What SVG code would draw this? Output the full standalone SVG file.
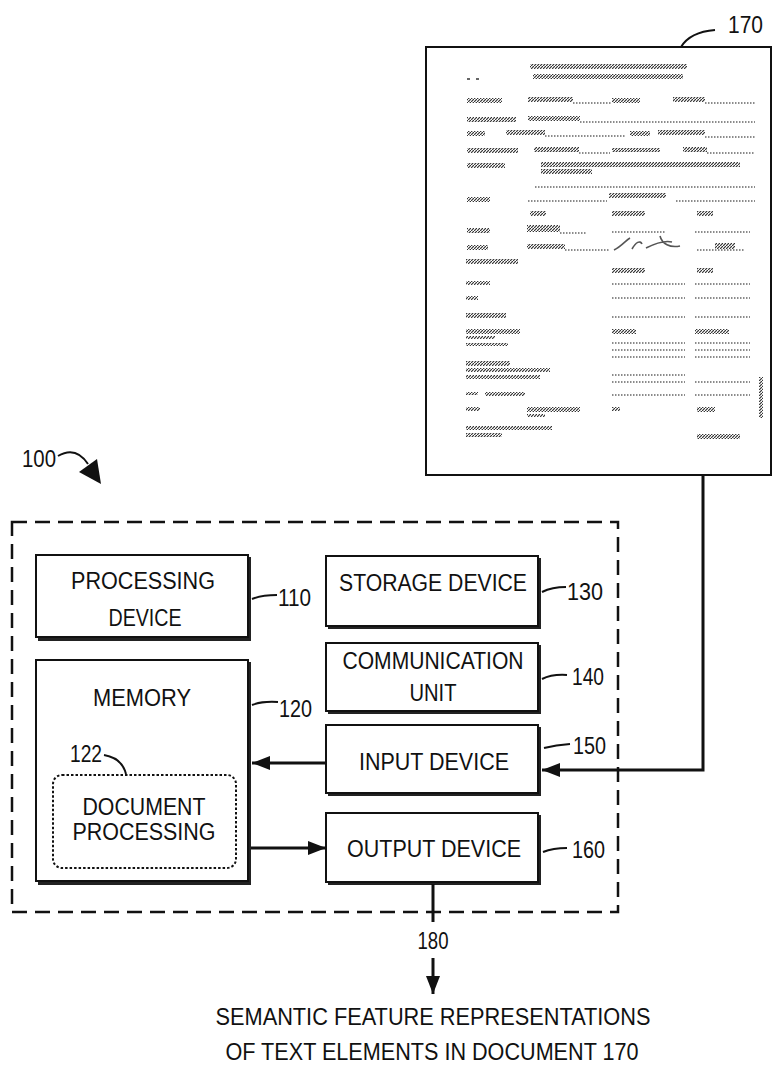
<svg xmlns="http://www.w3.org/2000/svg" width="773" height="1065" viewBox="0 0 773 1065">
  <style>
    .lbl { font-family: "Liberation Sans", Arial, sans-serif; font-size: 23px; fill: #111; }
    .num { font-family: "Liberation Sans", Arial, sans-serif; font-size: 23px; fill: #111; }
    .box { fill: #fff; stroke: #111; stroke-width: 2; }
    .shadow { fill: none; stroke: #222; stroke-width: 3; }
    .wire { fill: none; stroke: #111; stroke-width: 3; }
    .lead { fill: none; stroke: #111; stroke-width: 2; }
    .blob { fill: url(#smudge); }
    .dots { stroke: #666; stroke-width: 1.3; stroke-dasharray: 1.5 1.5; fill: none; }
  </style>
  <defs>
    <pattern id="smudge" width="3" height="3" patternUnits="userSpaceOnUse">
      <rect width="3" height="3" fill="#fff"/>
      <path d="M0,3 L3,0" stroke="#333" stroke-width="1.2"/>
    </pattern>
    <marker id="arrow" markerWidth="20" markerHeight="14" refX="18" refY="7" orient="auto" markerUnits="userSpaceOnUse">
      <path d="M0,0 L18,7 L0,14 Z" fill="#111"/>
    </marker>
  </defs>
  <rect width="773" height="1065" fill="#fff"/>

  <!-- system boundary 100 -->
  <g id="system-100">
    <rect x="12" y="522" width="606" height="390" fill="none" stroke="#111" stroke-width="2.5" stroke-dasharray="15 8"/>
    <text class="num" x="22" y="467" textLength="34" lengthAdjust="spacingAndGlyphs">100</text>
    <path d="M58,456 C70,449 80,452 88,464" class="lead" stroke-width="2.5"/>
    <path d="M79,472 L101,484 L97,459 Z" fill="#111"/>
  </g>

  <!-- document 170 -->
  <g id="document-170">
    <rect x="426" y="47" width="345" height="428" fill="#fff" stroke="#111" stroke-width="2"/>
    <path d="M681,47 Q690,32 715,30" class="lead" stroke-width="2.5"/>
    <text class="num" x="728" y="33" textLength="35" lengthAdjust="spacingAndGlyphs">170</text>
    <!-- scanned form contents -->
    <g>
      <rect class="blob" x="530" y="64" width="157" height="5"/>
      <rect class="blob" x="533" y="74" width="150" height="5"/>
      <rect x="467" y="78" width="3" height="2" fill="#666"/>
      <rect x="476" y="78" width="3" height="2" fill="#666"/>

      <rect class="blob" x="467" y="98" width="35" height="5"/>
      <rect class="blob" x="528" y="97" width="45" height="5"/>
      <line class="dots" x1="573" y1="103" x2="611" y2="103"/>
      <rect class="blob" x="612" y="98" width="28" height="5"/>
      <rect class="blob" x="673" y="97" width="32" height="5"/>
      <line class="dots" x1="705" y1="103" x2="755" y2="103"/>

      <rect class="blob" x="467" y="117" width="49" height="5"/>
      <rect class="blob" x="528" y="116" width="52" height="5"/>
      <line class="dots" x1="580" y1="122" x2="755" y2="122"/>

      <rect class="blob" x="467" y="131" width="18" height="5"/>
      <rect class="blob" x="506" y="130" width="39" height="5"/>
      <line class="dots" x1="545" y1="136" x2="625" y2="136"/>
      <rect class="blob" x="630" y="131" width="20" height="5"/>
      <rect class="blob" x="658" y="130" width="47" height="5"/>
      <line class="dots" x1="705" y1="137" x2="755" y2="137"/>

      <rect class="blob" x="467" y="148" width="51" height="5"/>
      <rect class="blob" x="534" y="147" width="45" height="5"/>
      <line class="dots" x1="579" y1="153" x2="610" y2="153"/>
      <rect class="blob" x="612" y="148" width="48" height="4"/>
      <rect class="blob" x="683" y="147" width="24" height="5"/>
      <line class="dots" x1="707" y1="153" x2="755" y2="153"/>

      <rect class="blob" x="467" y="163" width="38" height="5"/>
      <rect class="blob" x="541" y="162" width="199" height="5"/>
      <rect class="blob" x="541" y="169" width="51" height="5"/>

      <line class="dots" x1="535" y1="187" x2="755" y2="187"/>

      <rect class="blob" x="467" y="197" width="23" height="5"/>
      <line class="dots" x1="528" y1="201" x2="607" y2="201"/>
      <rect class="blob" x="609" y="193" width="57" height="5"/>
      <line class="dots" x1="676" y1="201" x2="755" y2="201"/>

      <rect class="blob" x="530" y="211" width="16" height="5"/>
      <rect class="blob" x="612" y="211" width="33" height="5"/>
      <rect class="blob" x="697" y="211" width="16" height="5"/>

      <rect class="blob" x="467" y="228" width="23" height="5"/>
      <rect class="blob" x="527" y="225" width="33" height="7"/>
      <line class="dots" x1="560" y1="233" x2="586" y2="233"/>
      <line class="dots" x1="612" y1="232" x2="665" y2="232"/>
      <line class="dots" x1="695" y1="232" x2="750" y2="232"/>

      <rect class="blob" x="467" y="245" width="21" height="5"/>
      <rect class="blob" x="527" y="244" width="38" height="5"/>
      <line class="dots" x1="565" y1="250" x2="610" y2="250"/>
      <path d="M614,250 C622,246 626,240 630,238 M632,249 C636,242 640,240 642,244 M646,248 C654,244 664,240 672,242 M660,236 C662,244 670,248 680,246" fill="none" stroke="#555" stroke-width="1.6"/>
      <rect class="blob" x="715" y="243" width="20" height="6"/>
      <line class="dots" x1="697" y1="250" x2="745" y2="250"/>

      <rect class="blob" x="466" y="259" width="52" height="5"/>
      <rect class="blob" x="612" y="268" width="33" height="5"/>
      <rect class="blob" x="697" y="268" width="16" height="5"/>

      <rect class="blob" x="466" y="281" width="24" height="4"/>
      <line class="dots" x1="612" y1="284" x2="685" y2="284"/>
      <line class="dots" x1="695" y1="284" x2="750" y2="284"/>

      <rect class="blob" x="466" y="296" width="12" height="4"/>
      <line class="dots" x1="612" y1="298" x2="685" y2="298"/>
      <line class="dots" x1="695" y1="298" x2="750" y2="298"/>

      <rect class="blob" x="466" y="313" width="40" height="5"/>
      <line class="dots" x1="612" y1="317" x2="685" y2="317"/>
      <line class="dots" x1="695" y1="317" x2="750" y2="317"/>

      <rect class="blob" x="466" y="329" width="54" height="5"/>
      <rect class="blob" x="612" y="329" width="24" height="5"/>
      <rect class="blob" x="695" y="329" width="34" height="5"/>
      <rect class="blob" x="466" y="336" width="29" height="3"/>
      <rect class="blob" x="466" y="343" width="42" height="3"/>
      <line class="dots" x1="612" y1="343" x2="685" y2="343"/>
      <line class="dots" x1="695" y1="343" x2="750" y2="343"/>
      <line class="dots" x1="612" y1="350" x2="685" y2="350"/>
      <line class="dots" x1="695" y1="350" x2="750" y2="350"/>
      <line class="dots" x1="612" y1="357" x2="685" y2="357"/>
      <line class="dots" x1="695" y1="357" x2="750" y2="357"/>

      <rect class="blob" x="466" y="361" width="44" height="5"/>
      <rect class="blob" x="466" y="368" width="84" height="4"/>
      <rect class="blob" x="466" y="375" width="74" height="4"/>
      <line class="dots" x1="612" y1="375" x2="685" y2="375"/>
      <line class="dots" x1="612" y1="382" x2="685" y2="382"/>
      <line class="dots" x1="695" y1="382" x2="750" y2="382"/>

      <rect class="blob" x="466" y="392" width="12" height="3"/>
      <rect class="blob" x="485" y="392" width="40" height="4"/>
      <line class="dots" x1="612" y1="395" x2="685" y2="395"/>
      <line class="dots" x1="695" y1="395" x2="750" y2="395"/>

      <rect class="blob" x="466" y="407" width="14" height="4"/>
      <rect class="blob" x="527" y="407" width="53" height="5"/>
      <rect class="blob" x="527" y="414" width="18" height="3"/>
      <rect class="blob" x="612" y="407" width="8" height="4"/>
      <rect class="blob" x="697" y="407" width="18" height="5"/>
      <rect class="blob" x="759" y="377" width="4" height="41"/>

      <rect class="blob" x="466" y="426" width="86" height="4"/>
      <rect class="blob" x="466" y="433" width="36" height="4"/>
      <rect class="blob" x="697" y="434" width="43" height="5"/>
    </g>
  </g>

  <!-- processing device 110 -->
  <g id="processing-device-110">
    <path class="shadow" d="M249.5,557 V639.5 H38"/>
    <rect class="box" x="36" y="555" width="212" height="82"/>
    <text class="lbl" x="143" y="589" text-anchor="middle" textLength="144" lengthAdjust="spacingAndGlyphs">PROCESSING</text>
    <text class="lbl" x="145" y="626" text-anchor="middle" textLength="73" lengthAdjust="spacingAndGlyphs">DEVICE</text>
    <path class="lead" d="M252,599 Q262,595 277,595"/>
    <text class="num" x="278" y="606" textLength="33" lengthAdjust="spacingAndGlyphs">110</text>
  </g>

  <!-- memory 120 -->
  <g id="memory-120">
    <path class="shadow" d="M249.5,662 V883.5 H38"/>
    <rect class="box" x="36" y="660" width="212" height="221"/>
    <text class="lbl" x="142" y="706" text-anchor="middle" textLength="98" lengthAdjust="spacingAndGlyphs">MEMORY</text>
    <path class="lead" d="M252,705 Q262,701 278,702"/>
    <text class="num" x="279" y="717" textLength="33" lengthAdjust="spacingAndGlyphs">120</text>
  </g>

  <!-- document processing 122 -->
  <g id="document-processing-122">
    <rect x="53" y="775" width="183" height="93" rx="9" ry="9" fill="#fff" stroke="#111" stroke-width="2" stroke-dasharray="2.5 2"/>
    <text class="lbl" x="144" y="815" text-anchor="middle" textLength="123" lengthAdjust="spacingAndGlyphs">DOCUMENT</text>
    <text class="lbl" x="144" y="840" text-anchor="middle" textLength="143" lengthAdjust="spacingAndGlyphs">PROCESSING</text>
    <text class="num" x="70" y="762" textLength="32" lengthAdjust="spacingAndGlyphs">122</text>
    <path class="lead" d="M104,755 Q122,758 126,774"/>
  </g>

  <!-- storage device 130 -->
  <g id="storage-device-130">
    <path class="shadow" d="M539.5,558 V627.5 H328"/>
    <rect class="box" x="326" y="556" width="212" height="70"/>
    <text class="lbl" x="433" y="591" text-anchor="middle" textLength="188" lengthAdjust="spacingAndGlyphs">STORAGE DEVICE</text>
    <path class="lead" d="M542,592 Q552,587 566,587"/>
    <text class="num" x="567" y="600" textLength="36" lengthAdjust="spacingAndGlyphs">130</text>
  </g>

  <!-- communication unit 140 -->
  <g id="communication-unit-140">
    <path class="shadow" d="M539.5,645 V712.5 H328"/>
    <rect class="box" x="326" y="643" width="212" height="68"/>
    <text class="lbl" x="433" y="669" text-anchor="middle" textLength="181" lengthAdjust="spacingAndGlyphs">COMMUNICATION</text>
    <text class="lbl" x="433" y="701" text-anchor="middle" textLength="47" lengthAdjust="spacingAndGlyphs">UNIT</text>
    <path class="lead" d="M542,679 Q552,674 567,675"/>
    <text class="num" x="572" y="685" textLength="32" lengthAdjust="spacingAndGlyphs">140</text>
  </g>

  <!-- input device 150 -->
  <g id="input-device-150">
    <path class="shadow" d="M539.5,727 V794.5 H328"/>
    <rect class="box" x="326" y="725" width="212" height="68"/>
    <text class="lbl" x="434" y="770" text-anchor="middle" textLength="150" lengthAdjust="spacingAndGlyphs">INPUT DEVICE</text>
    <path class="lead" d="M544,748 Q556,745 570,744"/>
    <text class="num" x="573" y="754" textLength="33" lengthAdjust="spacingAndGlyphs">150</text>
  </g>

  <!-- output device 160 -->
  <g id="output-device-160">
    <path class="shadow" d="M539.5,815 V883.5 H328"/>
    <rect class="box" x="326" y="813" width="212" height="69"/>
    <text class="lbl" x="434" y="857" text-anchor="middle" textLength="174" lengthAdjust="spacingAndGlyphs">OUTPUT DEVICE</text>
    <path class="lead" d="M543,852 Q553,848 567,848"/>
    <text class="num" x="572" y="858" textLength="33" lengthAdjust="spacingAndGlyphs">160</text>
  </g>

  <!-- result 180 -->
  <g id="result-180">
    <text class="num" x="433" y="949" text-anchor="middle" font-size="20" textLength="31" lengthAdjust="spacingAndGlyphs">180</text>
    <text class="lbl" x="433" y="1025" text-anchor="middle" textLength="435" lengthAdjust="spacingAndGlyphs">SEMANTIC FEATURE REPRESENTATIONS</text>
    <text class="lbl" x="432" y="1060" text-anchor="middle" textLength="413" lengthAdjust="spacingAndGlyphs">OF TEXT ELEMENTS IN DOCUMENT 170</text>
  </g>

  <!-- connectors -->
  <g id="connectors">
    <line class="wire" x1="326" y1="763" x2="252" y2="763" marker-end="url(#arrow)"/>
    <line class="wire" x1="251" y1="848" x2="326" y2="848" marker-end="url(#arrow)"/>
    <polyline class="wire" points="703,476 703,770 542,770" marker-end="url(#arrow)"/>
    <line class="wire" x1="433" y1="884" x2="433" y2="922"/>
    <line class="wire" x1="433" y1="958" x2="433" y2="994" marker-end="url(#arrow)"/>
  </g>
</svg>
